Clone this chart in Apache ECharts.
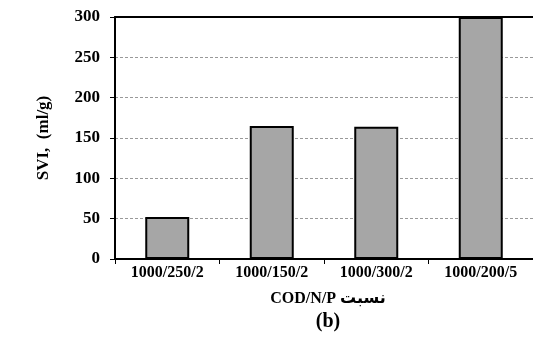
<!DOCTYPE html>
<html><head><meta charset="utf-8">
<script src="https://cdn.jsdelivr.net/npm/echarts@6/dist/echarts.min.js"></script>
<style>html,body{margin:0;padding:0;background:#fff}#c{width:533px;height:351px}</style>
</head><body><div id="c"></div>
<script>
const categories = ['1000/250/2', '1000/150/2', '1000/300/2', '1000/200/5'];
const sviValues = [52, 165, 164, 300];
const yTicks = [0, 50, 100, 150, 200, 250, 300];
const yAxisName = 'SVI,  (ml/g)';
const xAxisName = 'COD/N/P نسبت';
const panelLabel = '(b)';

const FONT = '"Liberation Serif", "Times New Roman", "DejaVu Sans", serif';
const chart = echarts.init(document.getElementById('c'), null, {renderer: 'canvas'});
chart.setOption({
  animation: false,
  backgroundColor: '#fff',
  grid: {left: 115, top: 17, width: 428, height: 242},
  title: [
    {text: xAxisName, left: 323, top: 286, textAlign: 'center', textStyle: {fontFamily: FONT, fontWeight: 'bold', fontSize: 16, color: '#000'}},
    {text: panelLabel, left: 323, top: 307, textAlign: 'center', textStyle: {fontFamily: FONT, fontWeight: 'bold', fontSize: 20, color: '#000'}}
  ],
  xAxis: [{
    type: 'category', data: categories,
    axisLine: {lineStyle: {color: '#000', width: 2}},
    axisTick: {show: true, length: 5, lineStyle: {color: '#000', width: 1}},
    axisLabel: {fontFamily: FONT, fontWeight: 'bold', fontSize: 16, color: '#000', margin: 6}
  }, {
    type: 'category', data: categories, position: 'top',
    axisLine: {show: true, lineStyle: {color: '#000', width: 2}},
    axisTick: {show: false}, axisLabel: {show: false}, splitLine: {show: false}
  }],
  yAxis: {
    type: 'value', min: yTicks[0], max: yTicks[yTicks.length - 1], interval: 50,
    name: yAxisName, nameLocation: 'middle', nameGap: 63,
    nameTextStyle: {fontFamily: FONT, fontWeight: 'bold', fontSize: 17, color: '#000'},
    axisLine: {show: true, lineStyle: {color: '#000', width: 2}},
    axisTick: {show: true, length: 5, lineStyle: {color: '#000', width: 1}},
    axisLabel: {fontFamily: FONT, fontWeight: 'bold', fontSize: 17, color: '#000', margin: 15},
    splitLine: {show: true, lineStyle: {color: '#999', type: [3, 2], width: 1}}
  },
  series: [{
    type: 'bar', data: sviValues, barWidth: 44,
    itemStyle: {color: '#a6a6a6', borderColor: '#000', borderWidth: 2}
  }]
});
</script></body></html>
